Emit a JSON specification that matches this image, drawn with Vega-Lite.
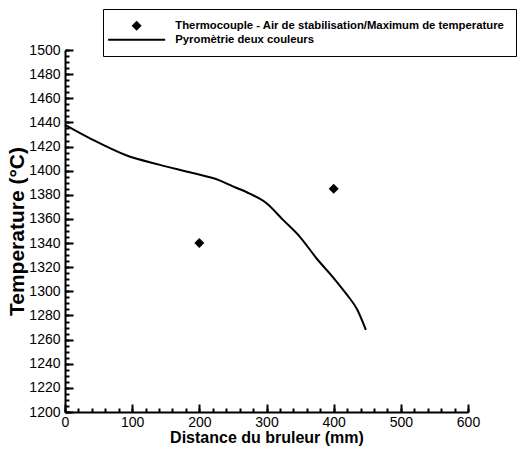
{
  "$schema": "https://vega.github.io/schema/vega-lite/v6.json",
  "width": 403,
  "height": 362,
  "autosize": "none",
  "padding": {"left": 65, "top": 50, "right": 54, "bottom": 38},
  "background": "white",
  "config": {
    "view": {"stroke": null},
    "font": "Liberation Sans",
    "axis": {
      "grid": false,
      "zindex": 1,
      "domainColor": "black",
      "domainWidth": 2,
      "tickColor": "#000000",
      "tickOpacity": 1,
      "tickWidth": 2,
      "labelColor": "black",
      "labelFont": "Liberation Sans",
      "labelFontSize": 14,
      "labelOverlap": false,
      "labelFlush": false,
      "labelBound": false,
      "titleColor": "black",
      "titleFont": "Liberation Sans",
      "titleFontWeight": "bold"
    }
  },
  "datasets": {
    "pyro": [
      {"distance": 0, "temperature": 1438},
      {"distance": 40, "temperature": 1426},
      {"distance": 90, "temperature": 1413},
      {"distance": 140, "temperature": 1405},
      {"distance": 190, "temperature": 1398},
      {"distance": 230, "temperature": 1392},
      {"distance": 250, "temperature": 1387},
      {"distance": 275, "temperature": 1381},
      {"distance": 300, "temperature": 1373},
      {"distance": 325, "temperature": 1359},
      {"distance": 350, "temperature": 1345},
      {"distance": 375, "temperature": 1327},
      {"distance": 400, "temperature": 1311},
      {"distance": 420, "temperature": 1297},
      {"distance": 435, "temperature": 1285},
      {"distance": 448, "temperature": 1268}
    ],
    "thermo": [
      {"distance": 200, "temperature": 1340, "serie": "Thermocouple - Air de stabilisation/Maximum de temperature"},
      {"distance": 400, "temperature": 1385, "serie": "Thermocouple - Air de stabilisation/Maximum de temperature"}
    ]
  },
  "resolve": {"axis": {"x": "independent", "y": "independent"}},
  "layer": [
    {
      "data": {"name": "pyro"},
      "mark": {"type": "line", "color": "black", "strokeWidth": 2, "interpolate": "monotone"},
      "encoding": {
        "x": {
          "field": "distance", "type": "quantitative",
          "scale": {"domain": [0, 600], "nice": false},
          "axis": {
            "orient": "bottom",
            "title": "Distance du bruleur (mm)",
            "titleFontSize": 16,
            "titlePadding": 0,
            "format": "d",
            "values": [0, 100, 200, 300, 400, 500, 600],
            "ticks": false,
            "labelPadding": 3
          }
        },
        "y": {
          "field": "temperature", "type": "quantitative",
          "scale": {"domain": [1200, 1500], "nice": false, "zero": false},
          "axis": {
            "orient": "left",
            "title": "Temperature (°C)",
            "titleFontSize": 21,
            "titlePadding": 1,
            "format": "d",
            "values": [1200, 1220, 1240, 1260, 1280, 1300, 1320, 1340, 1360, 1380, 1400, 1420, 1440, 1460, 1480, 1500],
            "ticks": false,
            "labelPadding": 5
          }
        }
      }
    },
    {
      "data": {"name": "thermo"},
      "mark": {"type": "point", "filled": true, "color": "black", "opacity": 0, "size": 100},
      "encoding": {
        "x": {
          "field": "distance", "type": "quantitative",
          "axis": {
            "orient": "top",
            "offset": -362,
            "title": null,
            "domain": false,
            "labels": false,
            "ticks": true,
            "values": [0, 100, 200, 300, 400, 500, 600],
            "tickSize": 8
          }
        },
        "y": {
          "field": "temperature", "type": "quantitative",
          "axis": {
            "orient": "right",
            "offset": -403,
            "title": null,
            "domain": false,
            "labels": false,
            "ticks": true,
            "values": [1200, 1220, 1240, 1260, 1280, 1300, 1320, 1340, 1360, 1380, 1400, 1420, 1440, 1460, 1480, 1500],
            "tickSize": 8
          }
        }
      }
    },
    {
      "data": {"name": "thermo"},
      "mark": {"type": "point", "filled": true, "color": "black", "opacity": 1, "size": 100},
      "encoding": {
        "x": {
          "field": "distance", "type": "quantitative",
          "axis": {
            "orient": "top",
            "offset": -362,
            "title": null,
            "domain": false,
            "labels": false,
            "ticks": true,
            "values": [0,20,40,60,80,100,120,140,160,180,200,220,240,260,280,300,320,340,360,380,400,420,440,460,480,500,520,540,560,580,600],
            "tickSize": 4
          }
        },
        "y": {
          "field": "temperature", "type": "quantitative",
          "axis": {
            "orient": "right",
            "offset": -403,
            "title": null,
            "domain": false,
            "labels": false,
            "ticks": true,
            "values": [1200,1205,1210,1215,1220,1225,1230,1235,1240,1245,1250,1255,1260,1265,1270,1275,1280,1285,1290,1295,1300,1305,1310,1315,1320,1325,1330,1335,1340,1345,1350,1355,1360,1365,1370,1375,1380,1385,1390,1395,1400,1405,1410,1415,1420,1425,1430,1435,1440,1445,1450,1455,1460,1465,1470,1475,1480,1485,1490,1495,1500],
            "tickSize": 4
          }
        },
        "shape": {
          "field": "serie", "type": "nominal",
          "scale": {
            "domain": ["Thermocouple - Air de stabilisation/Maximum de temperature", "Pyromètrie deux couleurs"],
            "range": ["diamond", "M-5.7,-0.2L5.7,-0.2L5.7,0.2L-5.7,0.2Z"]
          },
          "legend": {
            "title": null,
            "orient": "none",
            "legendX": 38,
            "legendY": -41,
            "padding": 11,
            "strokeColor": "black",
            "fillColor": "white",
            "symbolSize": 100,
            "symbolOffset": 17,
            "labelOffset": 33,
            "rowPadding": 2,
            "labelFont": "Liberation Sans",
            "labelFontSize": 11.3,
            "labelFontWeight": "bold",
            "labelColor": "black",
            "labelLimit": 0,
            "symbolFillColor": "black",
            "symbolStrokeWidth": 0,
            "encode": {
              "symbols": {
                "update": {
                  "fill": {"value": "black"},
                  "opacity": {"value": 1}
                }
              }
            }
          }
        }
      }
    }
  ]
}
